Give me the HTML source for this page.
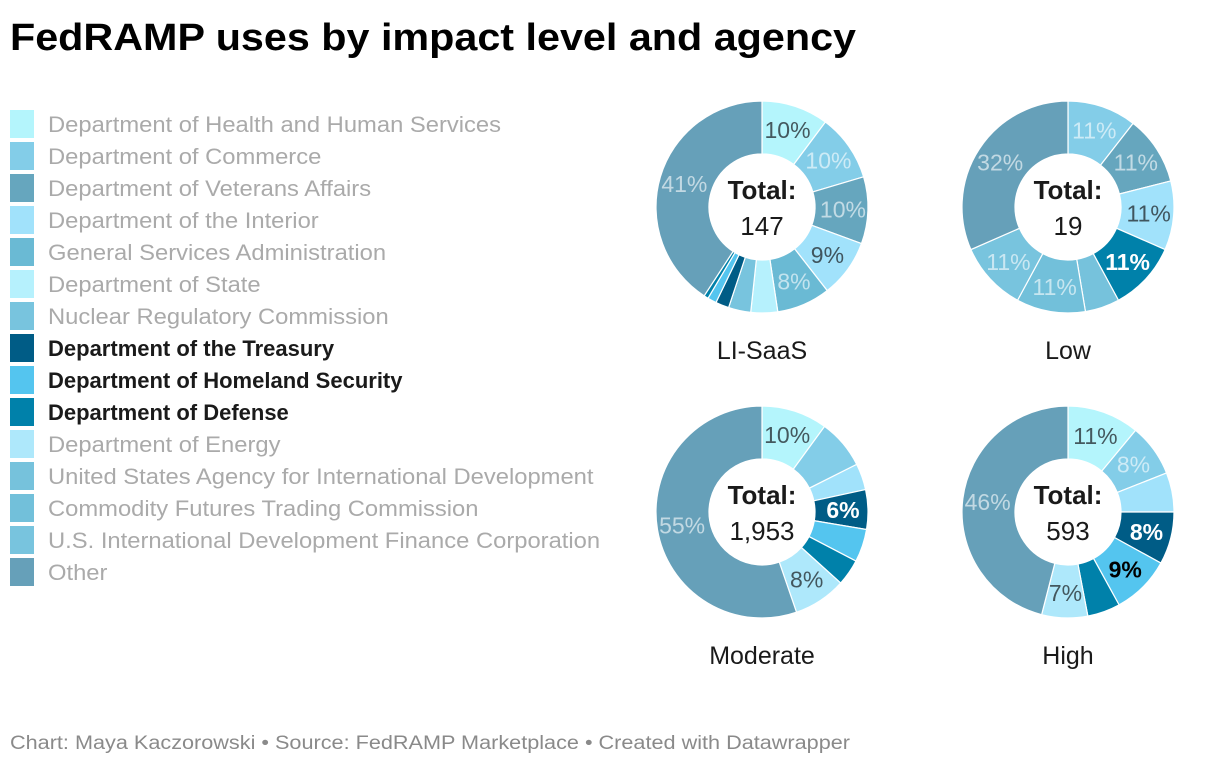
<!DOCTYPE html>
<html><head><meta charset="utf-8"><style>
html,body{margin:0;padding:0;background:#fff;}
svg{display:block;font-family:"Liberation Sans",sans-serif;}
</style></head><body>
<svg id="chart" width="1220" height="766" viewBox="0 0 1220 766">
<text x="10" y="50" font-size="38" font-weight="bold" fill="#000" textLength="846" lengthAdjust="spacingAndGlyphs">FedRAMP uses by impact level and agency</text>
<g id="legend"></g>
<g id="donuts"></g>
<text x="10" y="749" font-size="19" fill="#8a8a8a" textLength="840" lengthAdjust="spacingAndGlyphs">Chart: Maya Kaczorowski • Source: FedRAMP Marketplace • Created with Datawrapper</text>
</svg>
<script>
const agencies = ["Department of Health and Human Services","Department of Commerce","Department of Veterans Affairs","Department of the Interior","General Services Administration","Department of State","Nuclear Regulatory Commission","Department of the Treasury","Department of Homeland Security","Department of Defense","Department of Energy","United States Agency for International Development","Commodity Futures Trading Commission","U.S. International Development Finance Corporation","Other"];
const highlighted = [7,8,9];
const chartTitles = ["LI-SaaS","Low","Moderate","High"];
const totals = ["147","19","1,953","593"];
const liSaasValues   = [15,15,15,13,12,6,5,3,2,1,0,0,0,0,60];
const lowValues      = [0,2,2,2,0,0,0,0,0,2,0,1,2,2,6];
const moderateValues = [10,7.5,0,4,0,0,0,6,5,4,8,0,0,0,55];
const highValues     = [11,8,0,6,0,0,0,8,9,5,7,0,0,0,46];
const liSaasLabeled   = [0,1,2,3,4,14];
const lowLabeled      = [1,2,3,9,12,13,14];
const moderateLabeled = [0,7,10,14];
const highLabeled     = [0,1,7,8,10,14];

const colors = ["#b4f5fc","#83cde8","#66a6be","#a1e2fb","#6abad4","#b6f1fd","#78c4de","#005c86","#54c5ef","#0081aa","#aee8fb","#76c2dc","#72c0da","#78c4de","#66a0b9"];
const lightFill = [0,3,5,10];
const NS="http://www.w3.org/2000/svg";
const legend=document.getElementById('legend');
const donuts=document.getElementById('donuts');
function mk(tag,attrs,parent){const e=document.createElementNS(NS,tag);for(const k in attrs)e.setAttribute(k,attrs[k]);parent.appendChild(e);return e;}

agencies.forEach((a,i)=>{
  const y=110+i*32;
  const r=mk('rect',{x:10,y:y,width:24,height:28,fill:colors[i]},legend);
  
  
  const hl=highlighted.includes(i);
  const t=mk('text',{x:48,y:y+22,'font-size':22,fill:hl?'#1a1a1a':'#aaaaaa','font-weight':hl?'bold':'normal'},legend);
  t.textContent=a;
  
  
  const w=t.getComputedTextLength();
  t.setAttribute('textLength',(w*(hl?1.0:1.08)).toFixed(1));
  t.setAttribute('lengthAdjust','spacingAndGlyphs');
});

const series=[liSaasValues,lowValues,moderateValues,highValues];
const labeled=[liSaasLabeled,lowLabeled,moderateLabeled,highLabeled];
const centers=[[762,207],[1068,207],[762,512],[1068,512]];
const R=106, r0=53;
function pt(cx,cy,rad,ang){return [cx+rad*Math.sin(ang),cy-rad*Math.cos(ang)];}
series.forEach((vals,ci)=>{
  const [cx,cy]=centers[ci];
  const g=mk('g',{},donuts);
  
  
  const sum=vals.reduce((s,v)=>s+v,0);
  let a0=0;
  vals.forEach((v,i)=>{
    if(v<=0)return;
    const a1=a0+v/sum*2*Math.PI;
    const p1=pt(cx,cy,R,a0),p2=pt(cx,cy,R,a1),p3=pt(cx,cy,r0,a1),p4=pt(cx,cy,r0,a0);
    const large=(a1-a0)>Math.PI?1:0;
    const p=mk('path',{d:`M${p1[0]},${p1[1]}A${R},${R} 0 ${large} 1 ${p2[0]},${p2[1]}L${p3[0]},${p3[1]}A${r0},${r0} 0 ${large} 0 ${p4[0]},${p4[1]}Z`,fill:colors[i],stroke:'#fff','stroke-width':1.2},g);
    
    
    if(labeled[ci].includes(i)){
      const m=pt(cx,cy,81,(a0+a1)/2);
      const hl=highlighted.includes(i);
      let fill=lightFill.includes(i)?'rgba(40,50,55,0.8)':'rgba(255,255,255,0.6)';
      if(hl) fill=(i===8)?'#000':'#fff';
      const t=mk('text',{x:m[0],y:m[1]+8,'text-anchor':'middle','font-size':23,fill:fill,'font-weight':hl?'bold':'normal'},g);
      t.textContent=Math.round(v/sum*100)+'%';
      
      
    }
    a0=a1;
  });
  const t1=mk('text',{x:cx,y:cy-8,'text-anchor':'middle','font-size':26,'font-weight':'bold',fill:'#1a1a1a'},g);
  t1.textContent='Total:';
  
  
  const t2=mk('text',{x:cx,y:cy+28,'text-anchor':'middle','font-size':26,fill:'#1a1a1a'},g);
  t2.textContent=totals[ci];
  
  
  const t3=mk('text',{x:cx,y:cy+152,'text-anchor':'middle','font-size':25,fill:'#1a1a1a'},g);
  t3.textContent=chartTitles[ci];
  
  
});
</script>
</body></html>
